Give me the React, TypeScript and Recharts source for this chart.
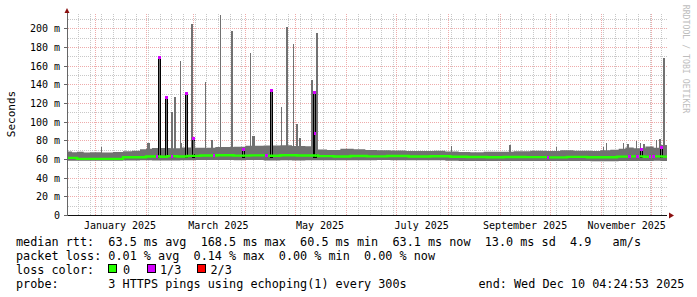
import React from 'react';
import { Area, Bar, ComposedChart, Line, ReferenceLine, Scatter, XAxis, YAxis } from 'recharts';

// time axis: days since the start of the 360 day window
const START = Date.UTC(2024, 11, 15, 4, 24, 53);
const SPAN = 360;
const Y_MAX = 217;
const dayOf = (y: number, m: number, d: number) => (Date.UTC(y, m, d) - START) / 86400000;

const monthNames = ['January 2025', 'March 2025', 'May 2025', 'July 2025', 'September 2025', 'November 2025'];
const labelMonths = [0, 2, 4, 6, 8, 10];
const labelDays = labelMonths.map((m) => dayOf(2025, m, 16));
const monthStartDays = Array.from({ length: 12 }, (_, m) => dayOf(2025, m, 1));
const weekDays: number[] = [];
for (let d = dayOf(2024, 11, 22); d < SPAN; d += 7) weekDays.push(d);

const yTicks = [0, 20, 40, 60, 80, 100, 120, 140, 160, 180, 200];
const yMajor = [20, 40, 60, 80, 100, 120, 140, 160, 180, 200];
const yMinor = [10, 30, 50, 70, 90, 110, 130, 150, 170, 190, 210];

// smoke band [day, min rtt, max rtt] in ms
const smokeSteps: [number, number, number][] = [
    [0, 58.8, 68.5], [3, 58.8, 67.8], [6, 58.6, 68.2], [10, 58.6, 67.4], [14, 58.6, 67.8],
    [21, 58.6, 67.5], [27.6, 58.8, 68.0], [33.6, 59.0, 68.8], [39, 59.0, 69.5], [43.8, 59.2, 71.0],
    [47.4, 59.2, 71.5], [51, 59.0, 72.3], [62, 59.0, 72.0], [68, 59.2, 72.8], [77, 59.4, 72.5],
    [89, 59.4, 73.3], [100, 59.2, 73.8], [107, 59.4, 74.8], [118, 59.0, 75.0], [128, 59.2, 75.3],
    [135, 59.0, 74.6], [143, 59.2, 74.3], [150.6, 59.3, 70.8], [156, 59.3, 70.3], [164, 59.3, 71.5],
    [172, 59.3, 71.0], [179, 59.3, 70.3], [186, 59.5, 69.8], [194, 59.3, 69.6], [203, 59.3, 69.2],
    [212, 59.1, 69.0], [220, 59.1, 69.3], [227, 58.8, 68.7], [235, 58.5, 68.0], [242, 58.5, 67.8],
    [250, 58.5, 68.2], [260, 58.4, 68.3], [268, 58.4, 68.8], [278, 58.4, 69.3], [286, 58.4, 69.0],
    [296, 58.3, 69.8], [304, 58.3, 69.3], [314, 58.2, 69.0], [320, 58.2, 70.0], [326, 58.2, 70.5],
    [331, 58.3, 71.5], [335, 58.3, 73.0], [340, 58.5, 72.0], [347, 58.4, 74.0], [352, 58.6, 72.5],
    [356, 58.3, 75.5], [360, 58.3, 75.5],
];

// median rtt [day, ms]
const medianSteps: [number, number][] = [
    [0, 61.7], [6, 60.7], [33.6, 62.4], [47.4, 63.3], [56, 63.0], [60, 63.6], [66, 63.2],
    [72, 63.9], [80, 64.3], [90, 64.6], [100, 64.2], [110, 64.4], [120, 64.0], [128, 64.6],
    [138, 64.3], [150.6, 63.6], [160, 63.2], [170, 63.8], [180, 63.4], [192, 63.7], [205, 63.2],
    [218, 63.5], [230, 63.0], [240, 62.7], [252, 62.4], [262, 62.7], [275, 62.6], [288, 62.3],
    [300, 62.8], [312, 62.5], [322, 62.4], [330, 63.1], [338, 63.4], [346, 63.0], [352, 63.4],
    [357, 63.1], [360, 63.1],
];

// single buckets where the slowest ping shot up [day, ms]
const SPIKE_BASE = 66;
const smokeSpikes: [number, number][] = [
    [20.8, 73.7], [48.6, 78], [49.2, 78], [62.7, 111], [63.3, 111], [64.8, 127], [68.0, 165.7],
    [68.8, 77.5], [74.8, 205], [75.4, 205], [76.6, 80], [83.0, 143], [86.6, 80.8], [87.2, 80.8],
    [92.0, 214.7], [98.6, 197.5], [99.2, 197.5], [110.0, 174.3], [111.6, 85], [112.2, 85],
    [128.8, 116], [131.7, 202], [132.3, 202], [136.0, 184], [137.5, 98], [138.1, 98], [139.8, 83],
    [146.5, 145], [147.1, 145], [149.6, 195.7], [150.2, 195.7], [230.8, 74.7], [265.8, 75.8],
    [293.8, 73.7], [321.8, 73.7], [323.8, 78], [333.8, 78], [336.6, 77], [341.8, 80], [344.2, 77.5],
    [346.2, 76.5], [353.8, 80.5], [355.8, 81.5], [357.9, 168.3], [358.5, 168.3],
];

// median jumps in buckets with 1/3 loss [day, ms]
const LOSS_BASE = 62;
const lossSpikes: [number, number][] = [
    [55.5, 169.5], [59.6, 127], [71.5, 131], [76.0, 83], [106.2, 71], [122.6, 135],
    [148.3, 132], [149.1, 88.5], [344.8, 71.5], [356.8, 73],
];

// 1/3 loss buckets on the median line [day, ms]
const lossMarks: [number, number][] = [
    [53.9, 63.2], [63.1, 63.3], [88.2, 64.5], [119.8, 64.2], [288.6, 62.4], [337.6, 63.2],
    [342.4, 63.2], [349.8, 63.0], [351.8, 63.2],
];

const rttStats = ['63.5 ms avg', '168.5 ms max', '60.5 ms min', '63.1 ms now', '13.0 ms sd'];
const lossStats = ['0.01 % avg', '0.14 % max', '0.00 % min', '0.00 % now'];
const lossLegend = ['0', '1/3', '2/3'];

const SMOKE = '#717171';
const GREEN = '#26ff00';
const MAGENTA = '#d500ff';
const RED = '#ff0000';
const MINOR_GRID = '#c8c8c8';
const MAJOR_GRID = '#eeabab';
const lossColors = [GREEN, MAGENTA, RED];
const mono = '"DejaVu Sans Mono", monospace';

type Row = { day: number; band?: [number, number]; median?: number; spike?: [number, number]; loss?: boolean; mark?: number };

const rowMap = new Map<number, Row>();
const rowAt = (day: number) => {
    let r = rowMap.get(day);
    if (!r) {
        r = { day };
        rowMap.set(day, r);
    }
    return r;
};
smokeSteps.forEach(([d, lo, hi]) => { rowAt(d).band = [lo, hi]; });
medianSteps.forEach(([d, v]) => { rowAt(d).median = v; });
smokeSpikes.forEach(([d, top]) => { rowAt(d).spike = [SPIKE_BASE, top]; });
lossSpikes.forEach(([d, top]) => {
    const r = rowAt(d);
    r.spike = [LOSS_BASE, top];
    r.loss = true;
});
lossMarks.forEach(([d, v]) => { rowAt(d).mark = v; });
const rows = Array.from(rowMap.values()).sort((a, b) => a.day - b.day);

const SpikeShape = (props: any) => {
    const { x, y, width, height, payload } = props;
    if (!payload || !payload.spike || !Number.isFinite(x) || !Number.isFinite(y)) return <g />;
    const cx = x + width / 2;
    const top = Math.min(y, y + height);
    const h = Math.abs(height);
    if (payload.loss) {
        return (
            <g shapeRendering="crispEdges">
                <rect x={cx - 1} y={top} width={2} height={h} fill={SMOKE} stroke="#000" strokeWidth={1} />
                <rect x={cx - 1.5} y={top - 1} width={3} height={3} fill={MAGENTA} />
            </g>
        );
    }
    return <rect x={cx - 0.6} y={top} width={1.2} height={h} fill={SMOKE} shapeRendering="crispEdges" />;
};

const MarkShape = (props: any) => {
    const { cx, cy, payload } = props;
    if (!payload || payload.mark == null || !Number.isFinite(cx) || !Number.isFinite(cy)) return <g />;
    return <rect x={cx - 1.2} y={cy - 1.5} width={2.5} height={3} fill={MAGENTA} shapeRendering="crispEdges" />;
};

const monthLabel = (v: number) => {
    let best = 0;
    labelDays.forEach((d, i) => {
        if (Math.abs(d - v) < Math.abs(labelDays[best] - v)) best = i;
    });
    return monthNames[best];
};

const lineStyle: React.CSSProperties = {
    position: 'absolute',
    left: 16,
    fontSize: 11.8,
    lineHeight: '14px',
    whiteSpace: 'pre',
    color: '#000',
};

const App: React.FC = () => {
    return (
        <div style={{ position: 'relative', width: 697, height: 297, background: '#fff', fontFamily: mono }}>
            <style>
                {'body{margin:0}.recharts-cartesian-axis line{shape-rendering:crispEdges}' +
                    '.recharts-reference-line line{shape-rendering:crispEdges}'}
            </style>
            <svg width={0} height={0} style={{ position: 'absolute' }}>
                <defs>
                    <pattern id="dotMinorH" patternUnits="userSpaceOnUse" width={2} height={1}>
                        <rect x={0} y={0} width={1} height={1} fill={MINOR_GRID} />
                    </pattern>
                    <pattern id="dotMajorH" patternUnits="userSpaceOnUse" width={2} height={1}>
                        <rect x={0} y={0} width={1} height={1} fill={MAJOR_GRID} />
                    </pattern>
                    <pattern id="dotMinorV" patternUnits="userSpaceOnUse" width={1} height={2}>
                        <rect x={0} y={0} width={1} height={1} fill={MINOR_GRID} />
                    </pattern>
                    <pattern id="dotMajorV" patternUnits="userSpaceOnUse" width={1} height={2}>
                        <rect x={0} y={0} width={1} height={1} fill={MAJOR_GRID} />
                    </pattern>
                </defs>
            </svg>
            <ComposedChart width={697} height={297} data={rows} margin={{ top: 13, right: 30, bottom: 61.5, left: 0 }}>
                {weekDays.map((d) => (
                    <ReferenceLine key={`vm${d}`} x={d} stroke="url(#dotMinorV)" strokeWidth={1} zIndex={-90} />
                ))}
                {yMinor.map((v) => (
                    <ReferenceLine key={`hm${v}`} y={v} stroke="url(#dotMinorH)" strokeWidth={1} zIndex={-90} />
                ))}
                {monthStartDays.map((d) => (
                    <ReferenceLine key={`vM${d}`} x={d} stroke="url(#dotMajorV)" strokeWidth={1} zIndex={-80} />
                ))}
                {yMajor.map((v) => (
                    <ReferenceLine key={`hM${v}`} y={v} stroke="url(#dotMajorH)" strokeWidth={1} zIndex={-80} />
                ))}
                <XAxis
                    dataKey="day"
                    type="number"
                    domain={[0, SPAN]}
                    allowDataOverflow
                    ticks={labelDays}
                    interval={0}
                    tickFormatter={monthLabel}
                    tickLine={false}
                    tickSize={0}
                    tickMargin={6}
                    height={20}
                    axisLine={{ stroke: '#111' }}
                    tick={{ fontSize: 10, fill: '#000', fontFamily: mono }}
                />
                <YAxis
                    type="number"
                    domain={[0, Y_MAX]}
                    allowDataOverflow
                    ticks={yTicks}
                    interval={0}
                    width={67}
                    tickSize={3}
                    tickMargin={4}
                    tickFormatter={(v: number) => (v === 0 ? '0' : `${v} m`)}
                    axisLine={{ stroke: '#666' }}
                    tickLine={{ stroke: '#666' }}
                    tick={{ fontSize: 10, fill: '#000', fontFamily: mono }}
                />
                <Area
                    type="stepAfter"
                    dataKey="band"
                    stroke="none"
                    fill={SMOKE}
                    fillOpacity={1}
                    connectNulls
                    dot={false}
                    activeDot={false}
                    isAnimationActive={false}
                />
                <Bar dataKey="spike" barSize={2} shape={SpikeShape} isAnimationActive={false} />
                <Line
                    type="stepAfter"
                    dataKey="median"
                    stroke={GREEN}
                    strokeWidth={2.4}
                    dot={false}
                    activeDot={false}
                    connectNulls
                    isAnimationActive={false}
                />
                <Scatter dataKey="mark" shape={MarkShape} isAnimationActive={false} />
            </ComposedChart>

            <svg width={697} height={297} style={{ position: 'absolute', left: 0, top: 0, pointerEvents: 'none' }}>
                <polygon points="64.5,13 69.5,13 67,8" fill="#8b1010" />
                <polygon points="669,212.5 669,218.5 674,215.5" fill="#8b1010" />
                <text x={11} y={114} transform="rotate(-90 11 114)" textAnchor="middle" dominantBaseline="central" fontSize={11} fontFamily={mono} fill="#000">
                    Seconds
                </text>
                <text x={686} y={59} transform="rotate(90 686 59)" textAnchor="middle" dominantBaseline="central" fontSize={8.2} fontFamily={mono} fill="#bdbdbd">
                    RRDTOOL / TOBI OETIKER
                </text>
            </svg>

            <div style={{ ...lineStyle, top: 234.5 }}>{'median rtt:  ' + rttStats.join('  ') + '  4.9   am/s'}</div>
            <div style={{ ...lineStyle, top: 248.8 }}>{'packet loss: ' + lossStats.join('  ')}</div>
            <div style={{ ...lineStyle, top: 263.1 }}>{'loss color:'}</div>
            {lossLegend.map((label, i) => (
                <React.Fragment key={label}>
                    <div
                        style={{
                            position: 'absolute',
                            left: [108, 146.5, 196.5][i],
                            top: 264,
                            width: 7,
                            height: 7,
                            background: lossColors[i],
                            border: '1px solid #000',
                        }}
                    />
                    <div style={{ ...lineStyle, left: [123, 160, 210.5][i], top: 263.1 }}>{label}</div>
                </React.Fragment>
            ))}
            <div style={{ ...lineStyle, top: 277.4 }}>{'probe:       3 HTTPS pings using echoping(1) every 300s'}</div>
            <div style={{ ...lineStyle, left: 478.5, top: 277.4 }}>{'end: Wed Dec 10 04:24:53 2025'}</div>
        </div>
    );
};

export default App;
